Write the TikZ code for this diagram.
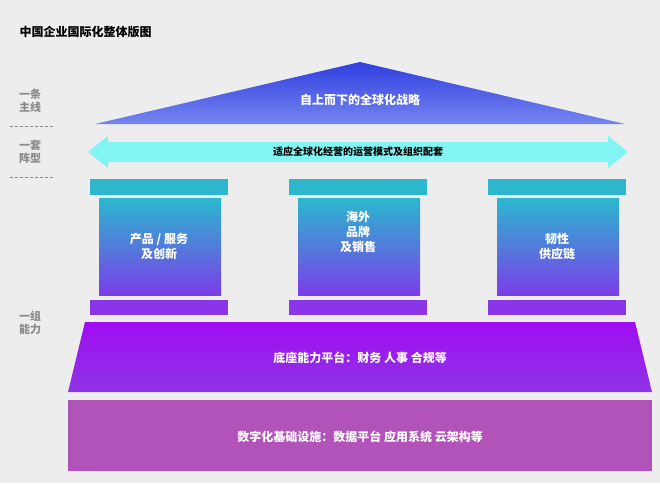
\documentclass[tikz,border=0pt]{standalone}
\usepackage{fontspec}
\newfontfamily\cjk{Noto Sans CJK SC}
\usetikzlibrary{shapes.arrows}
\definecolor{bg}{HTML}{EDEDED}
\definecolor{roofA}{HTML}{2F3FE0}
\definecolor{roofB}{HTML}{7585F0}
\definecolor{arr}{HTML}{80F5F4}
\definecolor{cap}{HTML}{2DB7CC}
\definecolor{colA}{HTML}{2BB8CF}
\definecolor{colB}{HTML}{7A3EE8}
\definecolor{basec}{HTML}{8A35E8}
\definecolor{platA}{HTML}{A00CF2}
\definecolor{platB}{HTML}{8E35E6}
\definecolor{found}{HTML}{B153B8}
\definecolor{side}{HTML}{8A8A8A}
\begin{document}
\begin{tikzpicture}[x=1pt,y=-1pt,
  wt/.style={text=white,font=\cjk\bfseries\fontsize{12}{15}\selectfont,align=center},
  sidel/.style={text=side,font=\cjk\bfseries\fontsize{11}{13}\selectfont,align=center},
  sep/.style={side,densely dashed,line width=0.5pt},
  capbox/.style={fill=cap},
  basebox/.style={fill=basec},
  colbody/.style={top color=colA,bottom color=colB}]
\fill[bg] (0,0) rectangle (660,483);
\useasboundingbox (0,0) rectangle (660,483);
\node[anchor=west,font=\cjk\bfseries\fontsize{12}{14}\selectfont] (title) at (16,32) {中国企业国际化整体版图};
% roof
\shade[top color=roofA,bottom color=roofB] (95,124) -- (360,62) -- (625,124) -- cycle;
\node[wt] (roof) at (360,100) {自上而下的全球化战略};
% arrow
\fill[arr] (88,152) -- (108,136) -- (108,142) -- (608,142) -- (608,136) -- (628,152) -- (608,168) -- (608,162) -- (108,162) -- (108,168) -- cycle;
\node[font=\cjk\bfseries\fontsize{10}{12}\selectfont] (arrt) at (358,152) {适应全球化经营的运营模式及组织配套};
% columns
\foreach \x/\n in {90/a,289/b,488/c}{
  \fill[capbox] (\x,179) rectangle (\x+138,195);
  \shade[colbody] (\x+9,198) rectangle (\x+131,295);
  \fill[basebox] (\x,300) rectangle (\x+138,315);
}
\node[wt] (c1) at (159,246) {产品 / 服务\\及创新};
\node[wt] (c2) at (358,232) {海外\\品牌\\及销售};
\node[wt] (c3) at (557,246) {韧性\\供应链};
% platform
\shade[top color=platA,bottom color=platB] (85,322) -- (635,322) -- (652,392) -- (68,392) -- cycle;
\node[wt] (plat) at (360,358) {底座能力平台：财务 人事 合规等};
% foundation
\fill[found] (68,400) rectangle (652,471);
\node[wt] (found) at (360,437) {数字化基础设施：数据平台 应用系统 云架构等};
% side labels
\node[sidel] (s1) at (30,101) {一条\\主线};
\draw[sep] (10,126) -- (55,126);
\node[sidel] (s2) at (30,152) {一套\\阵型};
\draw[sep] (10,177) -- (55,177);
\node[sidel] (s3) at (30,323) {一组\\能力};
\end{tikzpicture}
\end{document}
